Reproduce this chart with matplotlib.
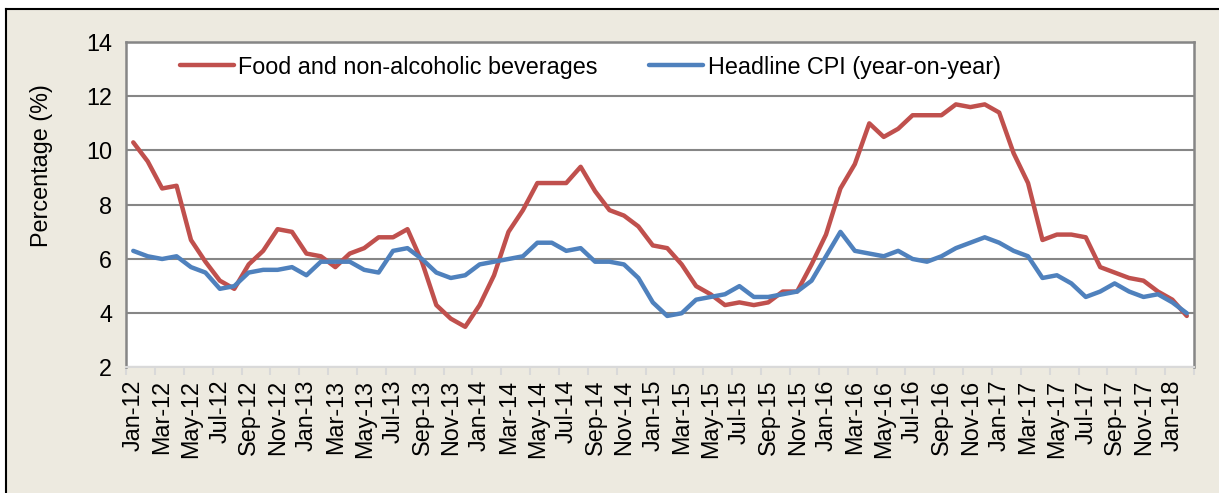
import matplotlib.pyplot as plt
from matplotlib.lines import Line2D
from matplotlib.patches import Rectangle

plt.rcParams["font.family"] = ["Liberation Sans", "DejaVu Sans"]

# monthly, Jan-12 .. Feb-18
MONTHS = ["Jan", "Feb", "Mar", "Apr", "May", "Jun",
          "Jul", "Aug", "Sep", "Oct", "Nov", "Dec"]
labels = [f"{m}-{y}" for y in range(12, 19) for m in MONTHS][:74]

food = [
    10.3, 9.6, 8.6, 8.7, 6.7, 5.9, 5.2, 4.9, 5.8, 6.3, 7.1, 7.0,
    6.2, 6.1, 5.7, 6.2, 6.4, 6.8, 6.8, 7.1, 5.9, 4.3, 3.8, 3.5,
    4.3, 5.4, 7.0, 7.8, 8.8, 8.8, 8.8, 9.4, 8.5, 7.8, 7.6, 7.2,
    6.5, 6.4, 5.8, 5.0, 4.7, 4.3, 4.4, 4.3, 4.4, 4.8, 4.8, 5.8,
    6.9, 8.6, 9.5, 11.0, 10.5, 10.8, 11.3, 11.3, 11.3, 11.7, 11.6, 11.7,
    11.4, 9.9, 8.8, 6.7, 6.9, 6.9, 6.8, 5.7, 5.5, 5.3, 5.2, 4.8,
    4.5, 3.9,
]
headline = [
    6.3, 6.1, 6.0, 6.1, 5.7, 5.5, 4.9, 5.0, 5.5, 5.6, 5.6, 5.7,
    5.4, 5.9, 5.9, 5.9, 5.6, 5.5, 6.3, 6.4, 6.0, 5.5, 5.3, 5.4,
    5.8, 5.9, 6.0, 6.1, 6.6, 6.6, 6.3, 6.4, 5.9, 5.9, 5.8, 5.3,
    4.4, 3.9, 4.0, 4.5, 4.6, 4.7, 5.0, 4.6, 4.6, 4.7, 4.8, 5.2,
    6.1, 7.0, 6.3, 6.2, 6.1, 6.3, 6.0, 5.9, 6.1, 6.4, 6.6, 6.8,
    6.6, 6.3, 6.1, 5.3, 5.4, 5.1, 4.6, 4.8, 5.1, 4.8, 4.6, 4.7,
    4.4, 4.0,
]

RED = "#C0504D"
BLUE = "#4F81BD"
BEIGE = "#EDEAE0"
FS = 16.8

fig = plt.figure(figsize=(12.19, 4.93), dpi=100)
fig.patch.set_facecolor("white")

# beige panel with black top/left frame
fig.add_artist(Rectangle((0.0049, 0), 1, 0.981, transform=fig.transFigure,
                         facecolor=BEIGE, edgecolor="none", zorder=-10))
fig.add_artist(Line2D([0.0049, 1], [0.981, 0.981], transform=fig.transFigure,
                      color="black", lw=1.5))
fig.add_artist(Line2D([0.0049, 0.0049], [0, 0.981], transform=fig.transFigure,
                      color="black", lw=1.5))

ax = fig.add_axes([0.1034, 0.2546, 0.8761, 0.6602])
ax.set_facecolor("white")

x = list(range(len(labels)))
ax.plot(x, food, color=RED, lw=3.2, label="Food and non-alcoholic beverages",
        solid_joinstyle="round", solid_capstyle="round", zorder=3)
ax.plot(x, headline, color=BLUE, lw=3.2, label="Headline CPI (year-on-year)",
        solid_joinstyle="round", solid_capstyle="round", zorder=3)

ax.set_xlim(-0.5, len(labels) - 0.5)
ax.set_ylim(2, 14)
ax.set_yticks(range(2, 15, 2))
ax.yaxis.grid(True, color="#868686", lw=1.5)
ax.set_axisbelow(True)
ax.tick_params(axis="y", length=0, pad=10, labelsize=FS)

ax.set_xticks(x[::2])
ax.set_xticklabels(labels[::2], rotation=90, fontsize=FS)
ax.set_xticks([i - 0.5 for i in range(0, len(labels) + 1, 2)], minor=True)
ax.tick_params(axis="x", which="major", length=0, pad=9)
ax.tick_params(axis="x", which="minor", length=6, color="#D9D9D9", width=1.5)

for side in ("left", "top", "right"):
    ax.spines[side].set_color("#868686")
    ax.spines[side].set_linewidth(1.8)
ax.spines["bottom"].set_color("#D9D9D9")
ax.spines["bottom"].set_linewidth(1.5)

ax.set_ylabel("Percentage (%)", fontsize=FS)
ax.yaxis.set_label_coords(-0.0684, 0.62)

ax.legend(loc="center left", bbox_to_anchor=(0.0506, 0.923), ncol=2,
          frameon=False, fontsize=FS, handlelength=2.3, handletextpad=0.2,
          columnspacing=2.2, borderpad=0, borderaxespad=0)

fig.savefig("out.png", dpi=100, facecolor=fig.get_facecolor())
